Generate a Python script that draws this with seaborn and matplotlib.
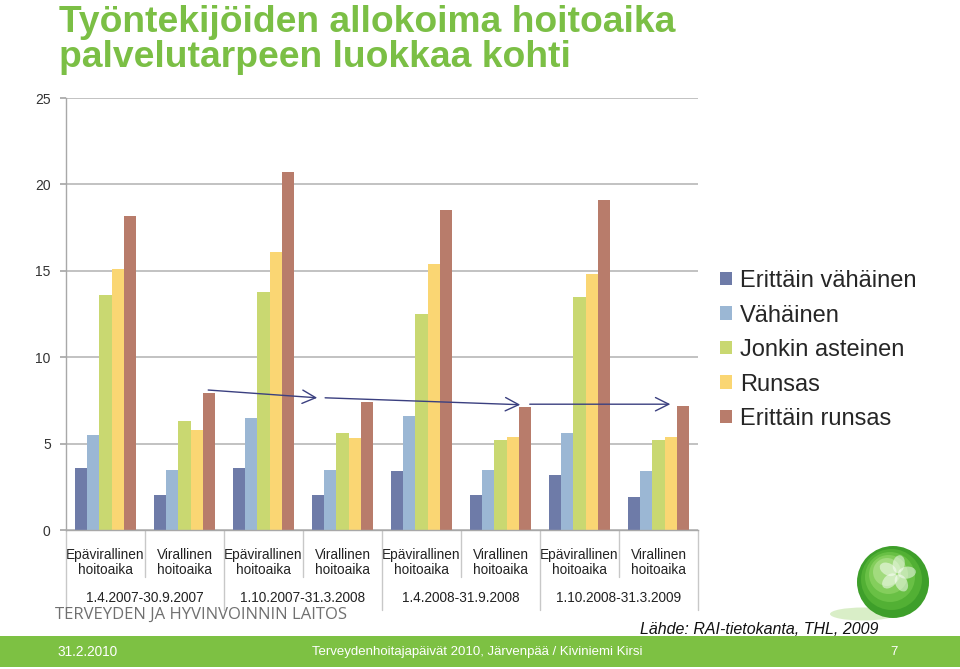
import math
import matplotlib
matplotlib.use("Agg")
import matplotlib.pyplot as plt
import matplotlib.transforms as mtransforms
from matplotlib.patches import Rectangle, Circle, Ellipse
import seaborn as sns
import pandas as pd

# ---- data ----
categories = ["Epävirallinen\nhoitoaika", "Virallinen\nhoitoaika"] * 4
periods = ["1.4.2007-30.9.2007", "1.10.2007-31.3.2008",
           "1.4.2008-31.9.2008", "1.10.2008-31.3.2009"]
series = ["Erittäin vähäinen", "Vähäinen", "Jonkin asteinen", "Runsas", "Erittäin runsas"]
erittain_vahainen = [3.6, 2.0, 3.6, 2.0, 3.4, 2.0, 3.2, 1.9]
vahainen = [5.5, 3.5, 6.5, 3.5, 6.6, 3.5, 5.6, 3.4]
jonkin_asteinen = [13.6, 6.3, 13.8, 5.6, 12.5, 5.2, 13.5, 5.2]
runsas = [15.1, 5.8, 16.1, 5.3, 15.4, 5.4, 14.8, 5.4]
erittain_runsas = [18.2, 7.9, 20.7, 7.4, 18.5, 7.1, 19.1, 7.2]
yticks = [0, 5, 10, 15, 20, 25]
# trend arrows (start x, start y, end x, end y) in category / value units
arrows = [(1.30, 8.1, 2.68, 7.65), (2.78, 7.65, 5.25, 7.25), (5.37, 7.28, 7.15, 7.28)]

colors = ["#6E7BA8", "#9BB7D4", "#C9D871", "#FAD673", "#B87C6B"]
title_green = "#7BBF45"

values = [erittain_vahainen, vahainen, jonkin_asteinen, runsas, erittain_runsas]
groups = [f"{c}|{periods[i // 2]}" for i, c in enumerate(categories)]
rows = []
for s, vals in zip(series, values):
    for g, v in zip(groups, vals):
        rows.append({"group": g, "series": s, "value": v})
df = pd.DataFrame(rows)

sns.set_theme(style="white")
plt.rcParams["font.family"] = ["Liberation Sans", "DejaVu Sans"]

fig = plt.figure(figsize=(9.6, 6.69), dpi=100)
W, H = 960, 669
ax = fig.add_axes([66 / W, 1 - 530 / H, (698 - 66) / W, (530 - 98) / H])

sns.barplot(data=df, x="group", y="value", hue="series", order=groups,
            hue_order=series, palette=colors, width=0.77, gap=0,
            saturation=1, errorbar=None, legend=False, ax=ax, linewidth=0)

ax.set_ylim(0, 25)
ax.set_xlim(-0.5, 7.5)
ax.set_yticks(yticks)
ax.set_yticklabels([str(t) for t in yticks], fontsize=10, color="#333333")
ax.yaxis.grid(True, color="#BDBDBD", linewidth=1.3)
ax.set_axisbelow(True)
ax.set_xlabel("")
ax.set_ylabel("")
for sp in ["top", "right"]:
    ax.spines[sp].set_visible(False)
for sp in ["left", "bottom"]:
    ax.spines[sp].set_color("#A8A8A8")
    ax.spines[sp].set_linewidth(1.0)
ax.tick_params(axis="y", left=True, length=4, color="#A8A8A8", pad=7)
ax.tick_params(axis="x", bottom=False, pad=7)
ax.set_xticks(range(len(groups)))
ax.set_xticklabels(categories, fontsize=9.8, color="#222222", linespacing=1.12)

trans = mtransforms.blended_transform_factory(ax.transData, ax.transAxes)
# separators
for i in range(len(groups) + 1):
    x = i - 0.5
    y_end = -0.185 if i % 2 == 0 else -0.109
    ax.plot([x, x], [0, y_end], color="#C8C8C8", lw=1.0, transform=trans, clip_on=False)
for k, p in enumerate(periods):
    ax.text(2 * k + 0.5, -0.158, p, transform=trans, ha="center", va="center",
            fontsize=9.8, color="#222222")

# arrows
for x0, y0, x1, y1 in arrows:
    ax.annotate("", xy=(x1, y1), xytext=(x0, y0),
                arrowprops=dict(arrowstyle="->,head_length=0.6,head_width=0.3",
                                color="#3B4080", lw=1.0,
                                mutation_scale=16, shrinkA=0, shrinkB=0))

# legend
handles = [Rectangle((0, 0), 1, 1, facecolor=c, edgecolor="none") for c in colors]
fig.legend(handles, series, loc="upper left", bbox_to_anchor=(720 / W, 1 - 270 / H),
           frameon=False, fontsize=17, handlelength=0.5, handleheight=0.5,
           handletextpad=0.35, labelspacing=0.53, borderpad=0, borderaxespad=0)

# title
fig.text(59 / W, 1 - 5 / H, "Työntekijöiden allokoima hoitoaika\npalvelutarpeen luokkaa kohti",
         ha="left", va="top", fontsize=26.8, fontweight="bold", color=title_green,
         linespacing=1.0)

# organisation text
fig.text(55 / W, 1 - 615 / H, "TERVEYDEN JA HYVINVOINNIN LAITOS", ha="left", va="center",
         fontsize=12, color="#707070", family=["Open Sans", "DejaVu Sans"])
fig.text(878 / W, 1 - 629 / H, "Lähde: RAI-tietokanta, THL, 2009", ha="right", va="center",
         fontsize=11.5, style="italic", color="#111111")

# footer band
fig.patches.append(Rectangle((0, 2 / H), 1, 31 / H, transform=fig.transFigure,
                             facecolor="#7DC143", edgecolor="none", zorder=0))
fig.text(57 / W, 1 - 652 / H, "31.2.2010", ha="left", va="center", fontsize=9.8,
         color="white")
fig.text(477 / W, 1 - 652 / H, "Terveydenhoitajapäivät 2010, Järvenpää / Kiviniemi Kirsi",
         ha="center", va="center", fontsize=9.5, color="white")
fig.text(894 / W, 1 - 652 / H, "7", ha="center", va="center", fontsize=9.5, color="white")

# decorative sphere logo
lax = fig.add_axes([825 / W, 1 - 630 / H, 110 / W, 85 / H])
lax.set_xlim(0, 110)
lax.set_ylim(0, 85)
lax.set_aspect("equal")
lax.axis("off")
lax.add_patch(Ellipse((38, 16), 66, 13, facecolor="#D3EBBE", edgecolor="none", alpha=0.85))
shades = ["#3E9F2A", "#52B034", "#69C045", "#84CE5C", "#A2DB7E"]
for k, c in enumerate(shades):
    r = 36 - k * 5.5
    lax.add_patch(Circle((68 - k * 1.5, 48 + k * 2.5), r, facecolor=c, edgecolor="none"))
for ang in range(5):
    a = math.radians(80 + ang * 72)
    lax.add_patch(Ellipse((72 + 10 * math.cos(a), 56 + 10 * math.sin(a)), 12, 18,
                          angle=math.degrees(a) - 90, facecolor="white",
                          edgecolor="none", alpha=0.5))

fig.savefig("out.png", dpi=100)
